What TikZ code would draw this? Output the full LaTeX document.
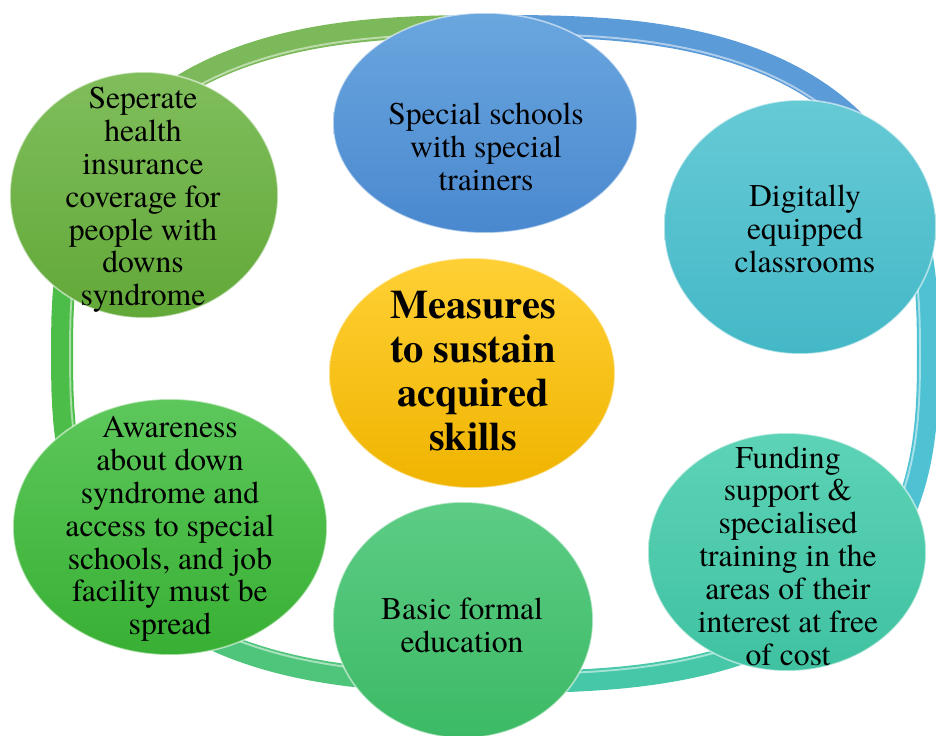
\documentclass[tikz,border=0pt]{standalone}
\usepackage{fontspec}
\setmainfont{texgyretermes}[Extension=.otf, UprightFont=*-regular, BoldFont=*-bold]
\usetikzlibrary{shapes.geometric}

\definecolor{ringolive}{HTML}{7CB95A}
\definecolor{ringgreen}{HTML}{4DBD4A}
\definecolor{ringmint}{HTML}{4FC57C}
\definecolor{ringteal}{HTML}{46C8A8}
\definecolor{ringcyan}{HTML}{4EC2D2}
\definecolor{ringblue}{HTML}{5B9BD8}

\definecolor{healthtop}{HTML}{80BE5C}   \definecolor{healthbot}{HTML}{62A838}
\definecolor{schooltop}{HTML}{6AA6DE}   \definecolor{schoolbot}{HTML}{4A88CF}
\definecolor{digitop}{HTML}{66CAD5}     \definecolor{digibot}{HTML}{44B8C7}
\definecolor{centretop}{HTML}{FFD035}   \definecolor{centrebot}{HTML}{F0B400}
\definecolor{fundtop}{HTML}{5DD3B6}     \definecolor{fundbot}{HTML}{3FC2A1}
\definecolor{basictop}{HTML}{5DCC85}    \definecolor{basicbot}{HTML}{3CBA65}
\definecolor{awaretop}{HTML}{5DC75B}    \definecolor{awarebot}{HTML}{38B034}

\tikzset{
  ring/.style={line width=0.44cm, line join=round},
  bubble/.style={ellipse, inner sep=0pt, draw=white, draw opacity=.55, line width=0.9pt},
  txt/.style={align=center, font=\fontsize{18}{18.7}\selectfont},
  headtxt/.style={align=center, font=\fontsize{23}{25}\selectfont\bfseries}
}

% one piece of the outer ring, from angle #2 to #3
\newcommand\ringarc[3]{%
  \draw[ring, #1] plot[domain=#2:#3, samples=40]
    ({495+433*cos(\x)*exp(-0.259*ln(abs(cos(\x))+0.0001))},
     {382+328*sin(\x)*exp(-0.259*ln(abs(sin(\x))+0.0001))});}

\begin{document}
\begin{tikzpicture}[x=0.2mm, y=0.2mm]
\useasboundingbox (0,0) rectangle (936,736);

\ringarc{ringolive}{93}{150}
\ringarc{ringgreen}{150}{230}
\ringarc{ringmint}{230}{265}
\ringarc{ringteal}{265}{335}
\ringarc{ringcyan}{335}{395}
\ringarc{ringblue}{35}{93}
\draw[white, opacity=.5, line width=1.1pt] plot[domain=0:360, samples=160]
  ({495+425*cos(\x)*exp(-0.259*ln(abs(cos(\x))+0.0001))},
   {382+320*sin(\x)*exp(-0.259*ln(abs(sin(\x))+0.0001))});

\node[bubble, minimum width=53.6mm, minimum height=49.2mm, top color=healthtop, bottom color=healthbot] (health) at (144,541) {};
\node[bubble, minimum width=60.8mm, minimum height=44mm, top color=schooltop, bottom color=schoolbot] (schools) at (485,613) {};
\node[bubble, minimum width=54.4mm, minimum height=50.8mm, top color=digitop, bottom color=digibot] (digital) at (800,509) {};
\node[bubble, minimum width=57.2mm, minimum height=46mm, top color=centretop, bottom color=centrebot] (centre) at (472,363) {};
\node[bubble, minimum width=55.6mm, minimum height=47.6mm, top color=fundtop, bottom color=fundbot] (funding) at (787,184) {};
\node[bubble, minimum width=52mm, minimum height=47.2mm, top color=basictop, bottom color=basicbot] (basic) at (463,116) {};
\node[bubble, minimum width=62.8mm, minimum height=51.2mm, top color=awaretop, bottom color=awarebot] (aware) at (170,209) {};

\node[txt] (health-t) at (143,536) {Seperate\\health\\insurance\\coverage for\\people with\\downs\\syndrome};
\node[txt] (schools-t) at (486,589) {Special schools\\with special\\trainers};
\node[txt] (digital-t) at (805,507) {Digitally\\equipped\\classrooms};
\node[headtxt] (centre-t) at (473,365) {Measures\\to sustain\\acquired\\skills};
\node[txt] (funding-t) at (788,180) {Funding\\support \&\\specialised\\training in the\\areas of their\\interest at free\\of cost};
\node[txt] (basic-t) at (462,111) {Basic formal\\education};
\node[txt] (aware-t) at (170,207) {Awareness\\about down\\syndrome and\\access to special\\schools, and job\\facility must be\\spread};
\end{tikzpicture}
\end{document}
